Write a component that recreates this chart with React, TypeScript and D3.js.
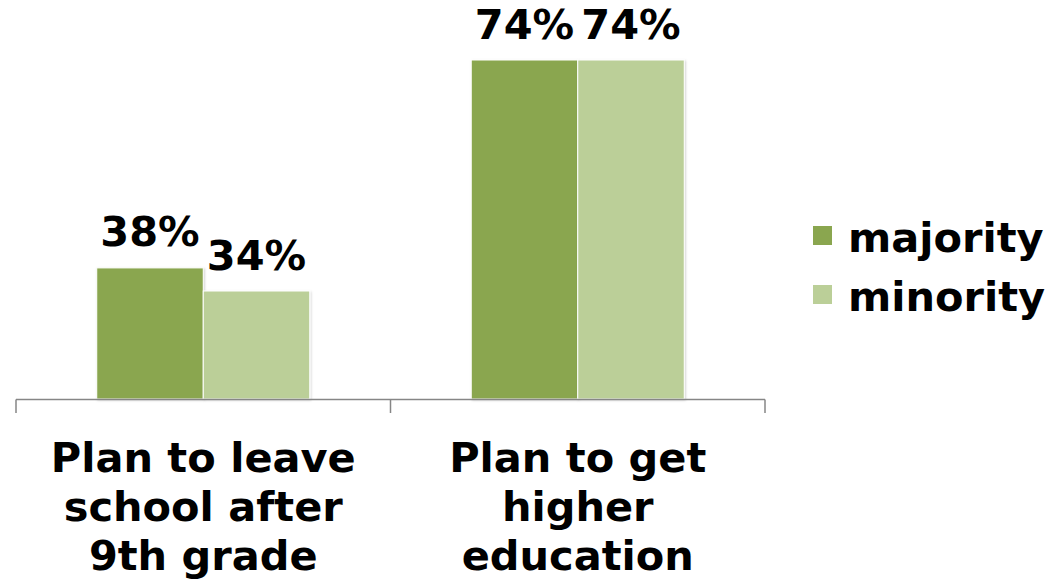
import React from "react";
import * as d3 from "d3";

const categories = ["Plan to leave school after 9th grade", "Plan to get higher education"];
const categoryLines = [
  ["Plan to leave", "school after", "9th grade"],
  ["Plan to get", "higher", "education"],
];
const seriesNames = ["majority", "minority"];
const majority = [38, 74];
const minority = [34, 74];
const seriesColors = ["#8AA64F", "#BBCF98"];

const W = 1063;
const H = 582;

export default function App() {
  const values = [majority, minority];
  const x0 = d3.scaleBand<string>().domain(categories).range([16, 765]).paddingInner(0).paddingOuter(0);
  const x1 = d3
    .scaleBand<string>()
    .domain(seriesNames)
    .range([0, x0.bandwidth()])
    .paddingInner(0)
    .paddingOuter(0.758);
  const y = d3.scaleLinear().domain([15.3, 74]).range([399, 60]);
  const font = "'DejaVu Sans', Verdana, sans-serif";
  const fs = 41.5;
  const tickXs = [16, ...categories.map((c) => (x0(c) as number) + x0.bandwidth())];

  return (
    <svg
      width={W}
      height={H}
      style={{ position: "absolute", left: 0, top: 0, background: "#fff" }}
      fontFamily={font}
      fontWeight="bold"
    >
      <defs>
        <filter id="sh" x="-10%" y="-10%" width="120%" height="120%">
          <feDropShadow dx="1" dy="1" stdDeviation="1.2" floodColor="#000" floodOpacity="0.18" />
        </filter>
      </defs>
      {categories.map((c, ci) =>
        seriesNames.map((s, si) => {
          const v = values[si][ci];
          const bx = (x0(c) as number) + (x1(s) as number);
          const by = y(v);
          return (
            <g key={c + s}>
              <rect
                x={bx}
                y={by}
                width={x1.bandwidth()}
                height={y.range()[0] - by}
                fill={seriesColors[si]}
                stroke="#fff"
                strokeWidth={1}
                filter="url(#sh)"
              />
              <text
                x={bx + x1.bandwidth() / 2}
                y={by - 21.5}
                textAnchor="middle"
                fontSize={fs}
                fill="#000"
              >
                {v}%
              </text>
            </g>
          );
        })
      )}
      <line x1={16} x2={765} y1={399.5} y2={399.5} stroke="#868686" strokeWidth={1.5} />
      {tickXs.map((tx, i) => (
        <line key={i} x1={tx} x2={tx} y1={399.5} y2={413} stroke="#868686" strokeWidth={1.5} />
      ))}
      {categories.map((c, ci) => (
        <text
          key={c}
          x={(x0(c) as number) + x0.bandwidth() / 2}
          textAnchor="middle"
          fontSize={fs}
          fill="#000"
        >
          {categoryLines[ci].map((ln, li) => (
            <tspan key={li} x={(x0(c) as number) + x0.bandwidth() / 2} y={471.5 + li * 49.2}>
              {ln}
            </tspan>
          ))}
        </text>
      ))}
      {seriesNames.map((s, si) => (
        <g key={s} transform={`translate(0, ${si * 59})`}>
          <rect x={813} y={226} width={19} height={19} fill={seriesColors[si]} />
          <text x={848} y={252} fontSize={fs} fill="#000">
            {s}
          </text>
        </g>
      ))}
    </svg>
  );
}
